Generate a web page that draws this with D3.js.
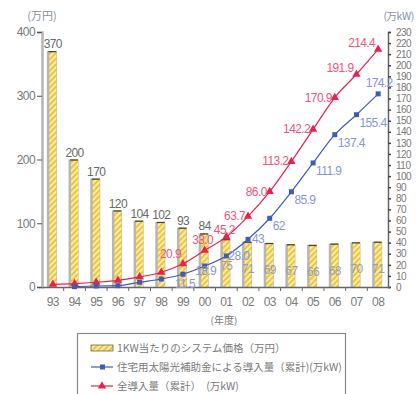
<!DOCTYPE html>
<html>
<head>
<meta charset="utf-8">
<script src="https://cdn.jsdelivr.net/npm/d3@7"></script>
<style>
  html, body { margin: 0; padding: 0; background: #fff; }
  svg { display: block; }
  text { font-family: "Liberation Sans", Arial, sans-serif; }
  .jp { font-family: "Noto Sans CJK JP", sans-serif; }
</style>
</head>
<body>
<svg id="chart" width="416" height="394"></svg>
<script>
// Fiscal years (two-digit labels)
const years = ["93","94","95","96","97","98","99","00","01","02","03","04","05","06","07","08"];
// System price per 1kW (万円)
const pricePerKW = [370, 200, 170, 120, 104, 102, 93, 84, 75, 71, 69, 67, 66, 68, 70, 71];
// Cumulative installed via residential subsidy (万kW); null where no data
const subsidyCum = [null, 0.3, 0.9, 1.2, 4.3, 7.2, 11.5, 18.9, 28.0, 43, 62, 85.9, 111.9, 137.4, 155.4, 174.2];
// Total cumulative installed (万kW)
const totalCum = [2.4, 3.1, 4.3, 6.0, 9.1, 13.3, 20.9, 33.0, 45.2, 63.7, 86.0, 113.2, 142.2, 170.9, 191.9, 214.4];
// Value labels shown on each line (from this index on)
const subsidyLabelFrom = 6;
const totalLabelFrom = 6;
const leftTicks = [0, 100, 200, 300, 400];
const rightTicks = d3.range(0, 231, 10);
const legendItems = [
  "1KW当たりのシステム価格（万円）",
  "住宅用太陽光補助金による導入量（累計)(万kW)",
  "全導入量（累計）　(万kW)"
];

const svg = d3.select("#chart");
const plotL = 42, plotR = 389, plotT = 32, plotB = 287;

const x = d3.scaleBand().domain(years).range([plotL, plotR]).padding(0);
const yL = d3.scaleLinear().domain([0, 400]).range([plotB, plotT]);
const yR = d3.scaleLinear().domain([0, 230]).range([plotB, plotT]);

const RED = "#e8224c", RED_LBL = "#f2557a";
const BLUE = "#3d5cb8", BLUE_LBL = "#8796d4";
const GREY_TXT = "#7a7a7a";

// Diagonal hatch fill for the price bars
const defs = svg.append("defs");
const pat = defs.append("pattern")
  .attr("id", "hatch").attr("patternUnits", "userSpaceOnUse")
  .attr("width", 4).attr("height", 4)
  .attr("patternTransform", "rotate(45)");
pat.append("rect").attr("width", 4).attr("height", 4).attr("fill", "#fbf0b8");
pat.append("rect").attr("width", 2.2).attr("height", 4).attr("fill", "#eec63a");

// Bars
const barW = 7;
const bars = svg.append("g");
years.forEach((yr, i) => {
  const cx = x(yr) + x.bandwidth() / 2;
  const yt = yL(pricePerKW[i]);
  bars.append("rect").attr("x", cx - barW / 2 - 2.5).attr("y", yt)
    .attr("width", barW + 3).attr("height", plotB - yt).attr("fill", "#b9b6ad");
  bars.append("rect").attr("x", cx - barW / 2).attr("y", yt)
    .attr("width", barW).attr("height", plotB - yt).attr("fill", "url(#hatch)");
  bars.append("line").attr("x1", cx - barW / 2 - 1).attr("x2", cx + barW / 2)
    .attr("y1", yt + 0.5).attr("y2", yt + 0.5).attr("stroke", "#4a4536").attr("stroke-width", 1.3);
});

// Bar value labels: above the bar while tall, inside the bar once short
years.forEach((yr, i) => {
  const cx = x(yr) + x.bandwidth() / 2;
  const v = pricePerKW[i];
  const inside = i >= 8;
  svg.append("text")
    .attr("x", cx).attr("y", inside ? yL(v) + 31 : yL(v) - 3)
    .attr("text-anchor", "middle").attr("font-size", 12)
    .attr("letter-spacing", -0.6)
    .attr("fill", inside ? "#9aa0b0" : "#6a6a6a")
    .text(v);
});

// Axes
const axL = svg.append("g").attr("transform", `translate(${plotL},0)`)
  .call(d3.axisLeft(yL).tickValues(leftTicks).tickSize(5).tickPadding(2));
axL.select(".domain").attr("stroke", "#b5b5b5").attr("stroke-width", 2.5);
axL.selectAll(".tick line").attr("stroke", "#555");
axL.selectAll(".tick text").attr("font-size", 12).attr("fill", GREY_TXT)
  .attr("letter-spacing", -0.6).attr("font-family", "Liberation Sans, Arial, sans-serif");

const axR = svg.append("g").attr("transform", `translate(${plotR - 1},0)`)
  .call(d3.axisRight(yR).tickValues(rightTicks).tickSize(3).tickPadding(5));
axR.select(".domain").attr("stroke", "#666").attr("stroke-width", 1.5);
axR.selectAll(".tick line").attr("stroke", "#444").attr("stroke-width", 1.5);
axR.selectAll(".tick text").attr("font-size", 10).attr("fill", GREY_TXT)
  .attr("letter-spacing", -0.5).attr("font-family", "Liberation Sans, Arial, sans-serif");

const axB = svg.append("g").attr("transform", `translate(0,${plotB})`)
  .call(d3.axisBottom(x).tickSize(0).tickPadding(10));
axB.select(".domain").attr("stroke", "#666").attr("stroke-width", 1.3);
axB.selectAll(".tick text").attr("font-size", 12).attr("fill", GREY_TXT)
  .attr("letter-spacing", -0.6).attr("font-family", "Liberation Sans, Arial, sans-serif");
// small separators under the axis between years
svg.append("g").selectAll("line").data(years.slice(1)).join("line")
  .attr("x1", d => x(d)).attr("x2", d => x(d))
  .attr("y1", plotB).attr("y2", plotB + 4)
  .attr("stroke", "#666");

// Axis titles
svg.append("text").attr("class", "jp").attr("x", 42).attr("y", 20)
  .attr("text-anchor", "middle").attr("font-size", 11).attr("fill", "#8a8fa8").text("(万円)");
svg.append("text").attr("class", "jp").attr("x", 414).attr("y", 20)
  .attr("text-anchor", "end").attr("font-size", 10.5).attr("letter-spacing", -0.4)
  .attr("fill", "#8a8fa8").text("(万kW)");
svg.append("text").attr("class", "jp").attr("x", 224).attr("y", 324)
  .attr("text-anchor", "middle").attr("font-size", 10).attr("fill", GREY_TXT).text("(年度)");

// Lines
const cxOf = i => x(years[i]) + x.bandwidth() / 2;
const line = d3.line()
  .defined(d => d.v != null)
  .x(d => cxOf(d.i)).y(d => yR(d.v))
  .curve(d3.curveMonotoneX);

const subPts = subsidyCum.map((v, i) => ({ v, i }));
const totPts = totalCum.map((v, i) => ({ v, i }));

svg.append("path").datum(subPts).attr("d", line)
  .attr("fill", "none").attr("stroke", BLUE).attr("stroke-width", 1.2);
svg.append("path").datum(totPts).attr("d", line)
  .attr("fill", "none").attr("stroke", RED).attr("stroke-width", 1.2);

const tri = d3.symbol().type(d3.symbolTriangle).size(30);
svg.append("g").selectAll("path").data(totPts).join("path")
  .attr("d", tri).attr("fill", RED)
  .attr("transform", d => `translate(${cxOf(d.i)},${yR(d.v)})`);
svg.append("g").selectAll("rect").data(subPts.filter(d => d.v != null)).join("rect")
  .attr("x", d => cxOf(d.i) - 2.5).attr("y", d => yR(d.v) - 2.5)
  .attr("width", 5).attr("height", 5).attr("fill", BLUE);

// Value labels on the total line: to the upper-left of each point
totPts.filter(d => d.i >= totalLabelFrom).forEach(d => {
  const px = cxOf(d.i), py = yR(d.v);
  const early = d.i <= 8;
  let anchor = "end", tx = early ? px - 2 : px - 3, ty = early ? py - 6 : py + 4;
  if (d.i >= 14) ty -= 6;
  if (d.i === 7) { anchor = "middle"; tx = px - 2; }
  if (d.i === 8) { anchor = "middle"; tx = px - 2; ty = py - 3; }
  svg.append("text")
    .attr("x", tx).attr("y", ty)
    .attr("text-anchor", anchor)
    .attr("font-size", 12).attr("letter-spacing", -0.6)
    .attr("fill", RED_LBL).text(d.v.toFixed(1));
});

// Value labels on the subsidy line: to the lower-right of each point
subPts.filter(d => d.i >= subsidyLabelFrom && d.v != null).forEach(d => {
  const px = cxOf(d.i), py = yR(d.v);
  let tx = px + 3, ty = py + 12, anchor = "start";
  if (d.i === 6) { tx = px + 2; ty = py + 14; anchor = "middle"; }
  if (d.i === 7) { tx = px + 1; ty = py + 9; anchor = "middle"; }
  if (d.i === 8) { tx = px + 2; ty = py + 4; }
  if (d.i === 9) { tx = px + 4; ty = py + 4; }
  if (d.i === 15) { tx = px + 1; ty = py - 7; anchor = "middle"; }
  const whole = Number.isInteger(d.v) && d.i >= 9 && d.i <= 10;
  svg.append("text").attr("x", tx).attr("y", ty).attr("text-anchor", anchor)
    .attr("font-size", 12).attr("letter-spacing", -0.6)
    .attr("fill", BLUE_LBL).text(whole ? String(d.v) : d.v.toFixed(1));
});

// Legend
const lg = svg.append("g");
lg.append("rect").attr("x", 77.5).attr("y", 333.5).attr("width", 268).attr("height", 70)
  .attr("fill", "#fff").attr("stroke", "#8a8a8a").attr("stroke-width", 1.2);
const rowY = [348, 367, 386];
lg.append("rect").attr("x", 91).attr("y", rowY[0] - 3).attr("width", 22).attr("height", 6)
  .attr("fill", "url(#hatch)").attr("stroke", "#6b6552").attr("stroke-width", 0.8);
[[BLUE, "sq"], [RED, "tri"]].forEach(([c, m], k) => {
  const yy = rowY[k + 1];
  lg.append("line").attr("x1", 91).attr("x2", 113).attr("y1", yy).attr("y2", yy)
    .attr("stroke", c).attr("stroke-width", 1.2);
  if (m === "sq") {
    lg.append("rect").attr("x", 100).attr("y", yy - 2.5).attr("width", 5).attr("height", 5).attr("fill", c);
  } else {
    lg.append("path").attr("d", tri).attr("fill", c).attr("transform", `translate(102,${yy})`);
  }
});
legendItems.forEach((t, k) => {
  lg.append("text").attr("class", "jp").attr("x", 117).attr("y", rowY[k] + 4)
    .attr("font-size", 10.5).attr("fill", GREY_TXT).text(t);
});
</script>
</body>
</html>
